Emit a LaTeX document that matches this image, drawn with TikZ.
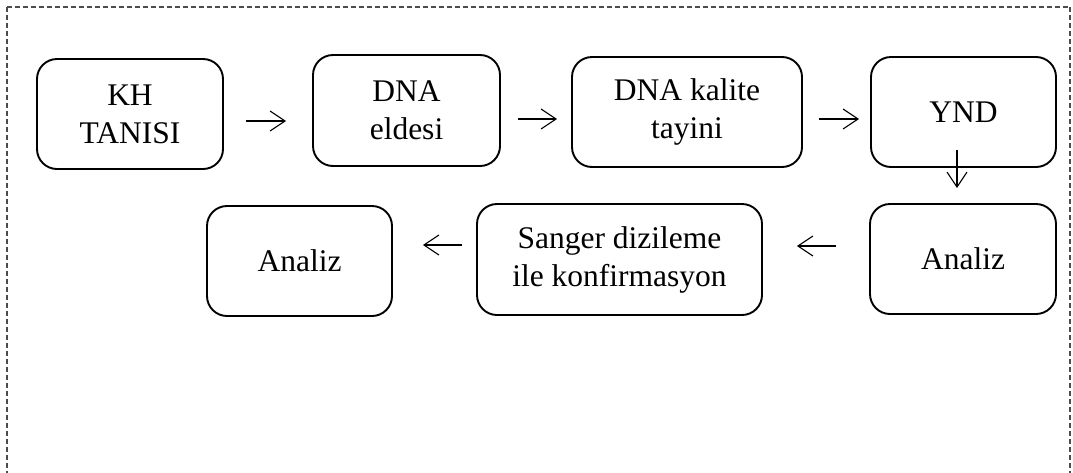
\documentclass[tikz,border=0pt]{standalone}
\usepackage{fontspec}
\setmainfont{Liberation Serif}
\usetikzlibrary{arrows.meta}
\tikzset{
  stepbox/.style={draw=black, line width=1.9pt, rounded corners=20pt, inner sep=0pt,
    align=center, font=\fontsize{31.5}{38}\selectfont},
  arr/.style={-{Straight Barb[length=15pt,width=20pt,line width=1.1pt]}, line width=1.1pt, black},
  frame/.style={draw=black!70, line width=1.1pt, dash pattern=on 5pt off 3pt}
}
\begin{document}
\begin{tikzpicture}[x=1pt,y=-1pt]
\useasboundingbox (0,0) rectangle (1073,472);
\begin{scope}
\clip (0,0) rectangle (1073,472);
\draw[frame] (7,7) -- (1070,7) (7,7) -- (7,490) (1070,7) -- (1070,490);
\end{scope}
\node[stepbox, minimum width=186pt, minimum height=110pt] (kh) at (130,114) {KH\\TANISI};
\node[stepbox, minimum width=187pt, minimum height=111pt] (dna) at (406.5,110.5) {DNA\\eldesi};
\node[stepbox, minimum width=230pt, minimum height=110pt] (kal) at (687,112) {DNA kalite\\tayini};
\node[stepbox, minimum width=185pt, minimum height=110pt] (ynd) at (963.5,112) {YND};
\node[stepbox, minimum width=186pt, minimum height=110pt] (an1) at (963,259) {Analiz};
\node[stepbox, minimum width=285pt, minimum height=111pt] (san) at (619.5,259.5) {Sanger dizileme\\ile konfirmasyon};
\node[stepbox, minimum width=185pt, minimum height=110pt] (an2) at (299.5,261) {Analiz};
\draw[arr, shorten <=22pt, shorten >=26pt] (kh.east |- 0,121) -- (dna.west |- 0,121);
\draw[arr, shorten <=17pt, shorten >=14pt] (dna.east |- 0,119) -- (kal.west |- 0,119);
\draw[arr, shorten <=16pt, shorten >=11pt] (kal.east |- 0,119) -- (ynd.west |- 0,119);
\draw[arr, shorten <=-18pt, shorten >=15pt] ([xshift=-6.5pt]ynd.south) -- ([xshift=-6pt]an1.north);
\draw[arr, shorten <=33pt, shorten >=34pt] (an1.west |- 0,246) -- (san.east |- 0,246);
\draw[arr, shorten <=14pt, shorten >=30pt] (san.west |- 0,245) -- (an2.east |- 0,245);
\end{tikzpicture}
\end{document}
